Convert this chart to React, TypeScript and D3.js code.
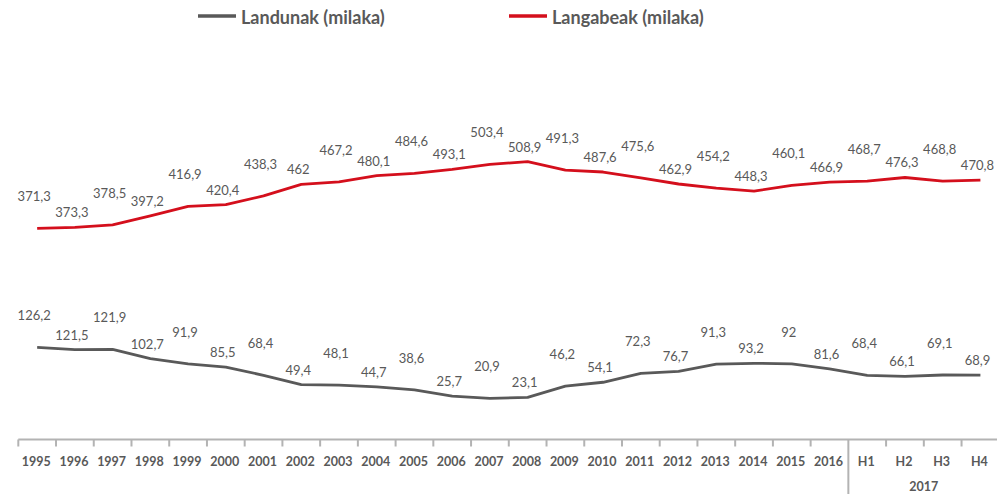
import React, { useEffect, useRef } from 'react';
import * as d3 from 'd3';

const categories = ['1995', '1996', '1997', '1998', '1999', '2000', '2001', '2002', '2003', '2004', '2005', '2006', '2007', '2008', '2009', '2010', '2011', '2012', '2013', '2014', '2015', '2016', 'H1', 'H2', 'H3', 'H4'];
const landunak = [126.2, 121.5, 121.9, 102.7, 91.9, 85.5, 68.4, 49.4, 48.1, 44.7, 38.6, 25.7, 20.9, 23.1, 46.2, 54.1, 72.3, 76.7, 91.3, 93.2, 92, 81.6, 68.4, 66.1, 69.1, 68.9];
const langabeak = [371.3, 373.3, 378.5, 397.2, 416.9, 420.4, 438.3, 462, 467.2, 480.1, 484.6, 493.1, 503.4, 508.9, 491.3, 487.6, 475.6, 462.9, 454.2, 448.3, 460.1, 466.9, 468.7, 476.3, 468.8, 470.8];
const groupLabel = '2017';
const seriesNames = ['Landunak (milaka)', 'Langabeak (milaka)'];
const colors = ['#595959', '#d40f1c'];

const W = 997;
const H = 494;
const TEXT = '#595959';
const FONT = 'Lato, "Open Sans", sans-serif';

const App = () => {
    const svgRef = useRef();

    useEffect(() => {
        const svg = d3.select(svgRef.current);
        svg.selectAll('*').remove();

        const axisY = 439.5;
        const x = d3.scaleBand()
            .domain(categories)
            .range([18.3, 18.3 + 37.73 * categories.length]);
        const y = d3.scaleLinear()
            .domain([0, 500])
            .range([408.5, 166]);

        const fmt = v => String(v).replace('.', ',');
        const cx = c => x(c) + x.bandwidth() / 2;

        // series lines + labels
        [landunak, langabeak].forEach((vals, s) => {
            const line = d3.line()
                .x((d, i) => cx(categories[i]))
                .y(d => y(d));

            svg.append('path')
                .datum(vals)
                .attr('d', line)
                .attr('fill', 'none')
                .attr('stroke', colors[s])
                .attr('stroke-width', 2.8)
                .attr('stroke-linejoin', 'round');

            svg.append('g').selectAll('text')
                .data(vals)
                .enter().append('text')
                .attr('x', (d, i) => cx(categories[i]) - 3)
                .attr('y', (d, i) => y(d) - (i % 2 === 0 ? 32 : 15))
                .attr('text-anchor', 'middle')
                .attr('dominant-baseline', 'central')
                .attr('font-family', FONT)
                .attr('font-size', 13)
                .attr('fill', TEXT)
                .text(d => fmt(d));
        });

        // x axis
        const ax = svg.append('g');
        ax.append('line')
            .attr('x1', 18.3).attr('x2', W)
            .attr('y1', axisY).attr('y2', axisY)
            .attr('stroke', '#b3b3b3').attr('stroke-width', 2);

        const bounds = categories.map(c => x(c));
        ax.selectAll('.tick')
            .data(bounds)
            .enter().append('line')
            .attr('x1', d => d).attr('x2', d => d)
            .attr('y1', axisY)
            .attr('y2', (d, i) => categories[i] === 'H1' ? H : axisY + 7)
            .attr('stroke', '#b3b3b3').attr('stroke-width', 2);

        ax.selectAll('.lbl')
            .data(categories)
            .enter().append('text')
            .attr('x', d => cx(d) - 1)
            .attr('y', 461)
            .attr('text-anchor', 'middle')
            .attr('dominant-baseline', 'central')
            .attr('font-family', FONT)
            .attr('font-size', 12.5)
            .attr('font-weight', 'bold')
            .attr('fill', TEXT)
            .text(d => d);

        ax.append('text')
            .attr('x', x('H3'))
            .attr('y', 486.5)
            .attr('text-anchor', 'middle')
            .attr('dominant-baseline', 'central')
            .attr('font-family', FONT)
            .attr('font-size', 12.5)
            .attr('font-weight', 'bold')
            .attr('fill', TEXT)
            .text(groupLabel);

        // legend
        const legendX = [198, 509];
        seriesNames.forEach((name, s) => {
            const g = svg.append('g').attr('transform', `translate(${legendX[s]},16)`);
            g.append('line')
                .attr('x1', 0).attr('x2', 38)
                .attr('stroke', colors[s]).attr('stroke-width', 3.5);
            g.append('text')
                .attr('x', 43)
                .attr('y', 0.5)
                .attr('dominant-baseline', 'central')
                .attr('font-family', FONT)
                .attr('font-size', 18)
                .attr('font-weight', 'bold')
                .attr('fill', TEXT)
                .text(name);
        });
    }, []);

    return (
        <div style={{ position: 'absolute', left: 0, top: 0 }}>
            <svg ref={svgRef} width={W} height={H} style={{ display: 'block', background: '#fff' }}></svg>
        </div>
    );
};

export default App;
